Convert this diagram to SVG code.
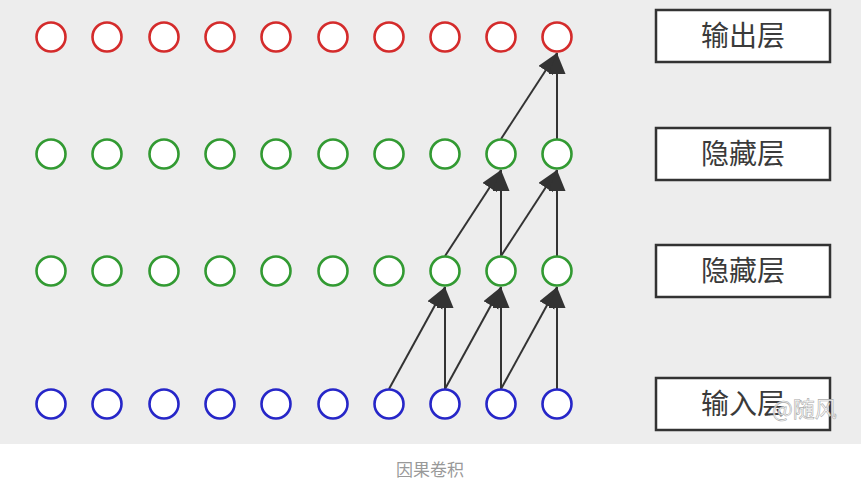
<svg xmlns="http://www.w3.org/2000/svg" width="861" height="485" viewBox="0 0 861 485">
<style>
.n{fill:#fff;stroke-width:2.6}
.r{stroke:#d42b2b}
.g{stroke:#329a32}
.b{stroke:#2626c8}
.box{fill:#fff;stroke:#333;stroke-width:2.5}
.lbl{font-family:"Noto Sans CJK SC","Noto Sans",sans-serif;font-size:28px;fill:#3a3a3a;text-anchor:middle}
.e{stroke:#333;stroke-width:2;fill:none;marker-end:url(#ah)}
</style>
<defs>
<marker id="ah" markerUnits="userSpaceOnUse" markerWidth="24" markerHeight="18" refX="21" refY="8.5" orient="auto" viewBox="0 0 24 18">
<path d="M0,0 L21,8.5 L0,17 Z" fill="#333"/>
</marker>
</defs>
<rect x="0" y="0" width="861" height="444" fill="#ededed"/>
<rect x="0" y="444" width="861" height="41" fill="#fff"/>
<g id="connectors">
<line class="e" x1="389" y1="389" x2="445" y2="287"/>
<line class="e" x1="445" y1="389" x2="445" y2="287"/>
<line class="e" x1="445" y1="389" x2="501" y2="287"/>
<line class="e" x1="501" y1="389" x2="501" y2="287"/>
<line class="e" x1="501" y1="389" x2="557" y2="287"/>
<line class="e" x1="557" y1="389" x2="557" y2="287"/>
<line class="e" x1="445" y1="256" x2="501" y2="170"/>
<line class="e" x1="501" y1="256" x2="501" y2="170"/>
<line class="e" x1="501" y1="256" x2="557" y2="170"/>
<line class="e" x1="557" y1="256" x2="557" y2="170"/>
<line class="e" x1="501" y1="139" x2="557" y2="53"/>
<line class="e" x1="557" y1="139" x2="557" y2="53"/>
</g>
<g id="output-layer">
<circle class="n r" cx="51" cy="37" r="14.5"/><circle class="n r" cx="107" cy="37" r="14.5"/><circle class="n r" cx="164" cy="37" r="14.5"/><circle class="n r" cx="220" cy="37" r="14.5"/><circle class="n r" cx="276" cy="37" r="14.5"/><circle class="n r" cx="333" cy="37" r="14.5"/><circle class="n r" cx="389" cy="37" r="14.5"/><circle class="n r" cx="445" cy="37" r="14.5"/><circle class="n r" cx="501" cy="37" r="14.5"/><circle class="n r" cx="557" cy="37" r="14.5"/>
</g>
<g id="hidden-layer-2">
<circle class="n g" cx="51" cy="154" r="14.5"/><circle class="n g" cx="107" cy="154" r="14.5"/><circle class="n g" cx="164" cy="154" r="14.5"/><circle class="n g" cx="220" cy="154" r="14.5"/><circle class="n g" cx="276" cy="154" r="14.5"/><circle class="n g" cx="333" cy="154" r="14.5"/><circle class="n g" cx="389" cy="154" r="14.5"/><circle class="n g" cx="445" cy="154" r="14.5"/><circle class="n g" cx="501" cy="154" r="14.5"/><circle class="n g" cx="557" cy="154" r="14.5"/>
</g>
<g id="hidden-layer-1">
<circle class="n g" cx="51" cy="271" r="14.5"/><circle class="n g" cx="107" cy="271" r="14.5"/><circle class="n g" cx="164" cy="271" r="14.5"/><circle class="n g" cx="220" cy="271" r="14.5"/><circle class="n g" cx="276" cy="271" r="14.5"/><circle class="n g" cx="333" cy="271" r="14.5"/><circle class="n g" cx="389" cy="271" r="14.5"/><circle class="n g" cx="445" cy="271" r="14.5"/><circle class="n g" cx="501" cy="271" r="14.5"/><circle class="n g" cx="557" cy="271" r="14.5"/>
</g>
<g id="input-layer">
<circle class="n b" cx="51" cy="404" r="14.5"/><circle class="n b" cx="107" cy="404" r="14.5"/><circle class="n b" cx="164" cy="404" r="14.5"/><circle class="n b" cx="220" cy="404" r="14.5"/><circle class="n b" cx="276" cy="404" r="14.5"/><circle class="n b" cx="333" cy="404" r="14.5"/><circle class="n b" cx="389" cy="404" r="14.5"/><circle class="n b" cx="445" cy="404" r="14.5"/><circle class="n b" cx="501" cy="404" r="14.5"/><circle class="n b" cx="557" cy="404" r="14.5"/>
</g>
<g id="label-output">
<rect class="box" x="656" y="10" width="174" height="52"/>
<text class="lbl" x="743" y="46">输出层</text>
</g>
<g id="label-hidden-2">
<rect class="box" x="656" y="128" width="174" height="52"/>
<text class="lbl" x="743" y="164">隐藏层</text>
</g>
<g id="label-hidden-1">
<rect class="box" x="656" y="245" width="174" height="52"/>
<text class="lbl" x="743" y="281">隐藏层</text>
</g>
<g id="label-input">
<rect class="box" x="656" y="378" width="174" height="52"/>
<text class="lbl" x="743" y="414">输入层</text>
<text x="772" y="417" style="font-family:'Noto Sans CJK SC',sans-serif;font-size:22px;fill:#fff;fill-opacity:0.85;stroke:#aaa;stroke-width:0.6">@随风</text>
</g>
<text x="430" y="476" style="font-family:'Noto Sans CJK SC',sans-serif;font-size:17px;fill:#999;text-anchor:middle">因果卷积</text>
</svg>
